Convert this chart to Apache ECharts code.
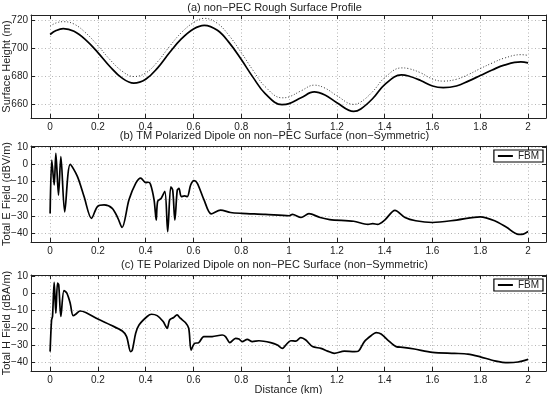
<!DOCTYPE html>
<html>
<head>
<meta charset="utf-8">
<script src="https://cdn.jsdelivr.net/npm/echarts@6/dist/echarts.min.js"></script>
<style>
  html, body { margin: 0; padding: 0; background: #fff; }
  #chart { width: 549px; height: 394px; }
</style>
</head>
<body>
<div id="chart"></div>
<script>
// (a) surface profile
const profileX = [0, 0.025, 0.055, 0.1, 0.15, 0.2, 0.25, 0.3, 0.35, 0.4, 0.45, 0.5, 0.55, 0.6, 0.645, 0.7, 0.75, 0.8, 0.85, 0.9,
    0.97, 1.0, 1.05, 1.105, 1.15, 1.2, 1.27, 1.3, 1.35, 1.4, 1.47, 1.5, 1.55, 1.6, 1.645, 1.7, 1.75, 1.8, 1.85, 1.9, 1.97, 2.0];
const profileSolid = [710, 712.8, 714.2, 712.3, 706, 697, 687, 678.8, 675, 677.8, 686, 697, 707, 714, 716.6, 713, 704, 692, 679, 667.5,
    659.6, 660.3, 664.5, 668.7, 666.5, 661, 654.8, 656.5, 664, 674, 681, 680.2, 677, 673, 671.8, 673, 676.5, 680.5, 684.5, 688, 690.3, 689.6];
const profileDotted = [716, 718.3, 719.2, 717.5, 711, 702, 692, 683.8, 679.8, 682.3, 690.5, 701.5, 711.5, 718.5, 721.6, 718, 709, 697, 684, 672.5,
    664.5, 665.2, 669.5, 673.6, 671.5, 666, 659.8, 661.5, 669, 679, 686, 685.5, 682.5, 678, 676.5, 677.8, 681.2, 685.5, 689.5, 693, 695.5, 695];

// (b) TM polarized dipole
const tmX = [0, 0.007, 0.017, 0.024, 0.035, 0.045, 0.061, 0.084, 0.114, 0.142, 0.173, 0.198, 0.226, 0.26, 0.284, 0.301,
    0.33, 0.358, 0.379, 0.4, 0.41, 0.42, 0.435, 0.444, 0.45, 0.465, 0.48, 0.492, 0.505, 0.513, 0.522, 0.532, 0.539,
    0.549, 0.563, 0.574, 0.588, 0.602, 0.616, 0.644, 0.674, 0.713, 0.755, 0.8, 0.9, 1.0, 1.014, 1.05, 1.083, 1.13,
    1.17, 1.27, 1.33, 1.35, 1.37, 1.4, 1.443, 1.485, 1.53, 1.6, 1.7, 1.8, 1.86, 1.91, 1.96, 1.98, 2.0];
const tmY = [-28.5, 2.5, -12, 6.4, -17.8, 4.5, -27.5, 0, -7, -18.7, -31.3, -24.5, -23.5, -25.5, -31.3, -36.6,
    -20.6, -11, -8, -10.6, -10.4, -11.5, -20.6, -32.3, -21.5, -19.6, -15.7, -39, -13, -15, -32.3, -15, -14,
    -18.7, -18.3, -18.7, -12, -9.5, -11, -20.6, -28.7, -26.5, -27.9, -28.4, -29, -29.8, -29, -30.8, -28.6, -30.8,
    -32, -33, -34.8, -34.3, -34.8, -32.3, -26.7, -30.8, -32.7, -33.7, -32.3, -30.4, -32.7, -36.5, -40.6, -40.4, -38.9];

// (c) TE polarized dipole
const teX = [0, 0.006, 0.01, 0.017, 0.024, 0.031, 0.036, 0.045, 0.058, 0.07, 0.084, 0.096, 0.107, 0.125, 0.149, 0.2,
    0.253, 0.302, 0.32, 0.337, 0.344, 0.358, 0.372, 0.406, 0.424, 0.448, 0.473, 0.49, 0.5, 0.517, 0.531, 0.545,
    0.566, 0.58, 0.59, 0.604, 0.622, 0.643, 0.678, 0.72, 0.734, 0.752, 0.776, 0.79, 0.804, 0.825, 0.846, 0.874,
    0.923, 0.951, 0.972, 0.986, 1.007, 1.028, 1.049, 1.07, 1.098, 1.133, 1.161, 1.189, 1.231, 1.273, 1.29, 1.315,
    1.343, 1.364, 1.385, 1.413, 1.448, 1.476, 1.524, 1.6, 1.692, 1.748, 1.8, 1.86, 1.916, 1.958, 2.0];
const teY = [-33.8, -15.5, -13.5, 6.2, -11.6, 5.8, 4.8, -13.5, 1.5, 0, -5.8, -13, -12.2, -10.3, -11.2, -15,
    -18.4, -21.9, -25.1, -33.8, -32.9, -23.2, -18.4, -13.5, -12.2, -13, -16.4, -20.3, -15.5, -14.1, -12.6, -14.5,
    -17, -20.3, -32.9, -29, -28.6, -25.1, -25.1, -24.2, -25.1, -28.6, -26.1, -26.5, -28, -26.7, -28, -27.5,
    -28.6, -30, -31.9, -30, -27.5, -27.7, -25.7, -27.1, -30.9, -31.9, -33.5, -34.8, -33.5, -33.8, -33.5, -28,
    -24.6, -22.8, -23.6, -27.1, -30.9, -31.3, -32.3, -34.2, -34.8, -35.2, -36.8, -39.1, -40.2, -39.8, -38.3];

// tick labels
const distTicks = [0, 0.2, 0.4, 0.6, 0.8, 1, 1.2, 1.4, 1.6, 1.8, 2];
const heightTicks = [660, 680, 700, 720];
const fieldTicks = [-40, -30, -20, -10, 0, 10];

const titles = [
    '(a) non\u2212PEC Rough Surface Profile',
    '(b) TM Polarized Dipole on non\u2212PEC Surface (non\u2212Symmetric)',
    '(c) TE Polarized Dipole on non\u2212PEC Surface (non\u2212Symmetric)'
];
const yNames = ['Surface Height (m)', 'Total E Field (dBV/m)', 'Total H Field (dBA/m)'];

function pairs(xs, ys) {
    return xs.map(function (x, i) { return [x, ys[i]]; });
}

const FONT = '"Liberation Sans", Arial, Helvetica, sans-serif';
const INK = '#222';
const gridTops = [15, 146, 275];
const gridHeights = [103, 96, 96];
const yRanges = [[650, 724], [-45, 10.6], [-45, 10.5]];
const yTicks = [heightTicks, fieldTicks, fieldTicks];

const minus = function (v) { return String(v).replace('-', '\u2212'); };

const grid = [], xAxis = [], yAxis = [];
for (let i = 0; i < 3; i++) {
    grid.push({ left: 31, right: 3, top: gridTops[i], height: gridHeights[i], containLabel: false, outerBoundsMode: 'none' });
    const xBase = {
        type: 'value', gridIndex: i, min: -0.08, max: 2.075,
        axisLine: { show: true, onZero: false, lineStyle: { color: INK, width: 1 } },
        axisTick: { show: true, inside: true, length: 4, customValues: distTicks, lineStyle: { color: INK } },
        splitLine: { show: false }
    };
    xAxis.push(Object.assign({}, xBase, {
        position: 'bottom',
        name: i === 2 ? 'Distance (km)' : '',
        nameLocation: 'middle', nameGap: 13, nameMoveOverlap: false,
        nameTextStyle: { fontFamily: FONT, fontSize: 11, color: INK },
        axisLabel: { customValues: distTicks, fontFamily: FONT, fontSize: 10, color: INK, margin: 4 },
        splitLine: { show: true, lineStyle: { color: '#b5b5b5', type: [1, 2.5], width: 1 } }
    }));
    xAxis.push(Object.assign({}, xBase, { position: 'top', axisLabel: { show: false } }));

    const yBase = {
        type: 'value', gridIndex: i, min: yRanges[i][0], max: yRanges[i][1],
        axisLine: { show: true, onZero: false, lineStyle: { color: INK, width: 1 } },
        axisTick: { show: true, inside: true, length: 4, customValues: yTicks[i], lineStyle: { color: INK } },
        splitLine: { show: false }
    };
    yAxis.push(Object.assign({}, yBase, {
        position: 'left',
        name: yNames[i], nameLocation: 'middle', nameGap: 19, nameMoveOverlap: false,
        nameTextStyle: { fontFamily: FONT, fontSize: 11, color: INK },
        axisLabel: { customValues: yTicks[i], fontFamily: FONT, fontSize: 10, color: INK, margin: 3, formatter: minus },
        splitLine: { show: true, lineStyle: { color: '#b5b5b5', type: [1, 2.5], width: 1 } }
    }));
    yAxis.push(Object.assign({}, yBase, { position: 'right', axisLabel: { show: false } }));
}

const solidLine = { color: '#000', width: 1.7 };
const series = [
    {
        type: 'line', name: 'profile', xAxisIndex: 0, yAxisIndex: 0, data: pairs(profileX, profileDotted),
        smooth: 0.4, showSymbol: false, symbol: 'none', lineStyle: { color: '#333', width: 1, type: [1, 2] }
    },
    {
        type: 'line', name: 'surface', xAxisIndex: 0, yAxisIndex: 0, data: pairs(profileX, profileSolid),
        smooth: 0.4, showSymbol: false, symbol: 'none', lineStyle: solidLine
    },
    {
        type: 'line', name: 'FBM', xAxisIndex: 2, yAxisIndex: 2, data: pairs(tmX, tmY),
        smooth: 0.3, showSymbol: false, symbol: 'none', lineStyle: solidLine, itemStyle: { color: '#000' }
    },
    {
        type: 'line', name: 'FBM', xAxisIndex: 4, yAxisIndex: 4, data: pairs(teX, teY),
        smooth: 0.3, showSymbol: false, symbol: 'none', lineStyle: solidLine, itemStyle: { color: '#000' }
    }
];

const legendBase = {
    data: ['FBM'], right: 6, orient: 'horizontal', icon: 'rect', itemWidth: 15, itemHeight: 2, itemGap: 4,
    padding: [1, 4, 1, 4], borderColor: '#000', borderWidth: 1.2, borderRadius: 0, backgroundColor: '#fff',
    selectedMode: false, textStyle: { fontFamily: FONT, fontSize: 10, color: INK, padding: [0, 0, 0, 0] }
};

const chart = echarts.init(document.getElementById('chart'), null, { renderer: 'canvas' });
chart.setOption({
    animation: false,
    backgroundColor: '#fff',
    title: titles.map(function (t, i) {
        return {
            text: t, left: 'center', top: [2, 130, 259][i], padding: 0,
            textStyle: { fontFamily: FONT, fontSize: 11, fontWeight: 'normal', color: INK }
        };
    }),
    legend: [
        Object.assign({}, legendBase, { top: 150 }),
        Object.assign({}, legendBase, { top: 279 })
    ],
    grid: grid,
    xAxis: xAxis,
    yAxis: yAxis,
    series: series
});
</script>
</body>
</html>
